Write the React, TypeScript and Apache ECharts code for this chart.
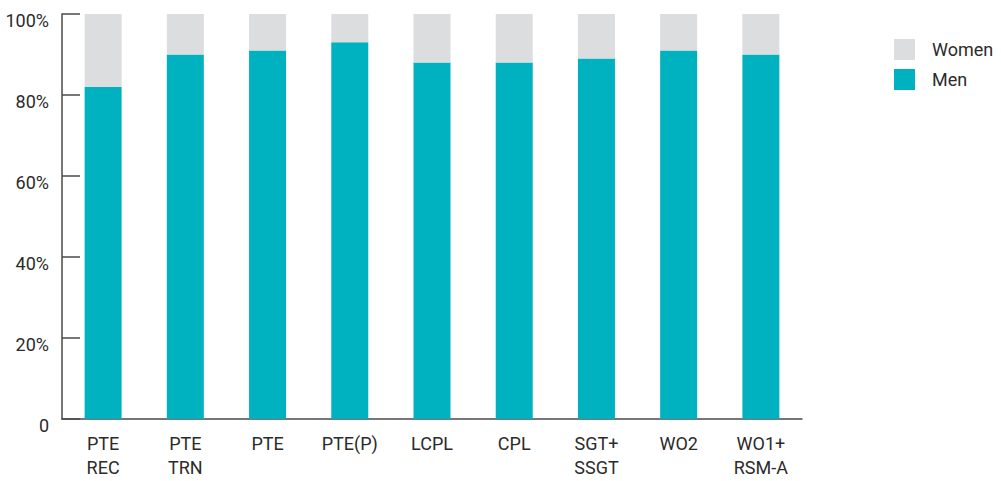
import React, { useEffect, useRef } from "react";
import * as echarts from "echarts";

const categories = ["PTE\nREC", "PTE\nTRN", "PTE", "PTE(P)", "LCPL", "CPL", "SGT+\nSSGT", "WO2", "WO1+\nRSM-A"];
const menValues = [82, 90, 91, 93, 88, 88, 89, 91, 90];
const womenValues = [18, 10, 9, 7, 12, 12, 11, 9, 10];
const yTicks = [0, 20, 40, 60, 80, 100];

const TEXT = "#2b2b2b";
const AXIS = "#4a4a4a";
const FONT = "Roboto, 'Liberation Sans', Arial, sans-serif";
const FS = 18;

export default function App() {
  const ref = useRef<HTMLDivElement>(null);
  useEffect(() => {
    if (!ref.current) return;
    const chart = echarts.init(ref.current, null, { renderer: "svg" });
    chart.setOption({
      animation: false,
      textStyle: { fontFamily: FONT },
      grid: { left: 62, right: 199, top: 14, bottom: 62, containLabel: false, outerBoundsMode: "none" },
      legend: {
        orient: "vertical",
        left: 894,
        top: 39,
        padding: 0,
        itemWidth: 21,
        itemHeight: 21,
        itemGap: 9,
        icon: "rect",
        data: ["Women", "Men"],
        textStyle: { fontSize: FS, color: TEXT, fontFamily: FONT, padding: [0, 0, 0, 12] },
      },
      xAxis: {
        type: "category",
        data: categories,
        boundaryGap: true,
        axisLine: { lineStyle: { color: AXIS, width: 1.5 } },
        axisTick: { inside: true, length: 10, interval: 0, lineStyle: { color: AXIS, width: 1.5 } },
        axisLabel: { interval: 0, color: TEXT, fontSize: FS, lineHeight: 24, margin: 12, fontFamily: FONT },
      },
      yAxis: {
        type: "value",
        min: 0,
        max: 100,
        interval: 20,
        splitLine: { show: false },
        axisLine: { show: true, lineStyle: { color: AXIS, width: 1.5 } },
        axisTick: { show: true, inside: true, length: 18, lineStyle: { color: AXIS, width: 1.5 } },
        axisLabel: {
          color: TEXT,
          fontSize: FS,
          margin: 13,
          verticalAlign: "top",
          lineHeight: 12,
          fontFamily: FONT,
          formatter: (v: number) => (yTicks.includes(v) ? (v === 0 ? "0" : v + "%") : ""),
        },
      },
      series: [
        {
          name: "Men",
          type: "bar",
          stack: "total",
          barWidth: 37,
          itemStyle: { color: "#00b2bf" },
          data: menValues,
        },
        {
          name: "Women",
          type: "bar",
          stack: "total",
          barWidth: 37,
          itemStyle: { color: "#dcdddf" },
          data: womenValues,
        },
      ],
    });
    return () => chart.dispose();
  }, []);
  return (
    <div
      ref={ref}
      style={{ position: "fixed", left: 0, top: 0, width: 1001, height: 481, background: "#ffffff" }}
    />
  );
}
